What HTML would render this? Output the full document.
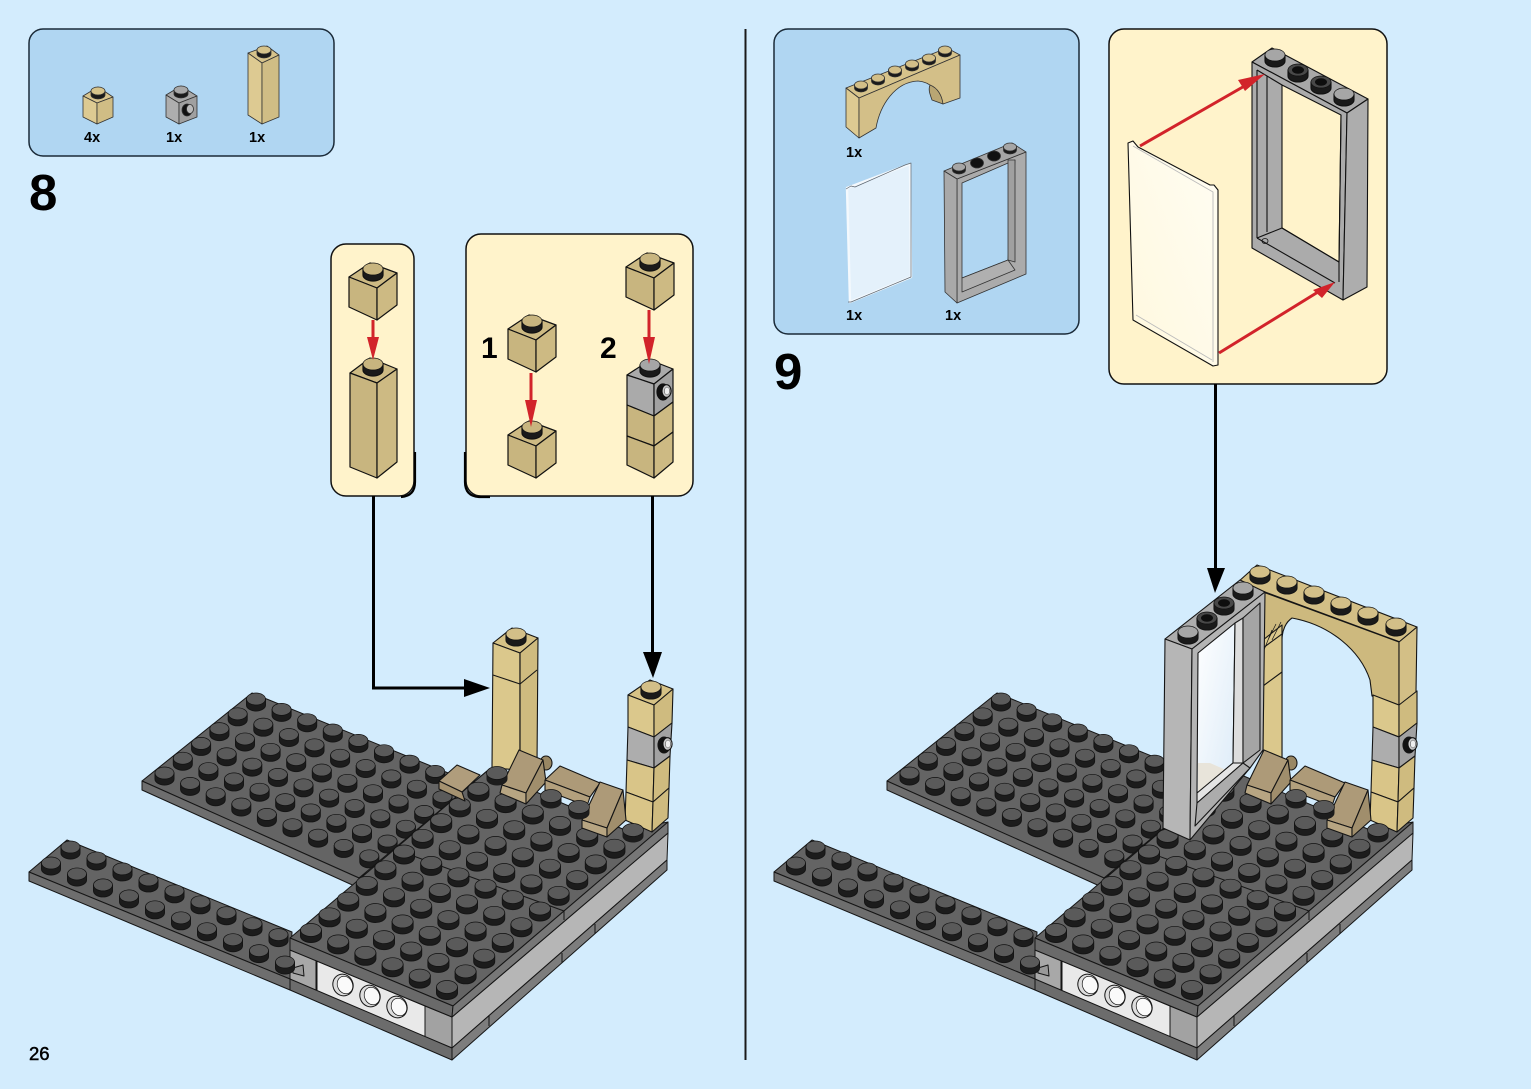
<!DOCTYPE html>
<html><head><meta charset="utf-8"><style>
html,body{margin:0;padding:0;background:#D3ECFD;width:1531px;height:1089px;overflow:hidden}
svg{display:block}
text{font-family:"Liberation Sans",sans-serif;font-weight:bold;fill:#000}
</style></head><body>
<svg width="1531" height="1089" viewBox="0 0 1531 1089" xmlns="http://www.w3.org/2000/svg">
<defs>
<linearGradient id="gl" x1="0" y1="0" x2="1" y2="1"><stop offset="0" stop-color="#fff"/><stop offset="1" stop-color="#dcebf8"/></linearGradient>
<linearGradient id="gy" x1="0" y1="1" x2="1" y2="0"><stop offset="0" stop-color="#FFF8DE"/><stop offset="1" stop-color="#FFFDF3"/></linearGradient>
<g id="s"><path d="M-10.5,-3v6a10.5,6.5 0 0 0 21,0v-6z" fill="#1c1c1c"/><ellipse cx="0" cy="-3" rx="10.5" ry="6.5" fill="#5a5a5a" stroke="#111" stroke-width=".7"/></g>
<g id="s2"><path d="M-9.5,-3v6a9.5,6 0 0 0 19,0v-6z" fill="#1c1c1c"/><ellipse cx="0" cy="-3" rx="9.5" ry="6" fill="#5a5a5a" stroke="#111" stroke-width=".7"/></g>
<g id="ts"><path d="M-10,-4v6a10,6 0 0 0 20,0v-6z" fill="#1a1a1a"/><ellipse cx="0" cy="-4" rx="10" ry="6" fill="#D3BF88" stroke="#111" stroke-width=".7"/></g>
<g id="ty"><path d="M-10,-4v6a10,6 0 0 0 20,0v-6z" fill="#1a1a1a"/><ellipse cx="0" cy="-4" rx="10" ry="6" fill="#C8B57F" stroke="#111" stroke-width=".7"/></g>
<g id="gs"><path d="M-10,-4v6a10,6 0 0 0 20,0v-6z" fill="#1a1a1a"/><ellipse cx="0" cy="-4" rx="10" ry="6" fill="#A6A6A6" stroke="#111" stroke-width=".7"/></g>
<g id="hs"><path d="M-10,-4v6a10,6 0 0 0 20,0v-6z" fill="#1a1a1a"/><ellipse cx="0" cy="-4" rx="10" ry="6" fill="#484848" stroke="#111" stroke-width=".7"/><ellipse cx="0" cy="-4" rx="6" ry="3.7" fill="#0e0e0e" stroke="none"/></g>
<g id="sa"><path d="M-6.5,-3v3a6.5,4 0 0 0 13,0v-3z" fill="#1a1a1a"/><ellipse cx="0" cy="-3" rx="6.5" ry="4" fill="#D3BF88"/></g>
<g id="sm"><path d="M-6.5,-3v3a6.5,4 0 0 0 13,0v-3z" fill="#1a1a1a"/><ellipse cx="0" cy="-3" rx="6.5" ry="4" fill="#A6A6A6"/></g>
<g id="pin"><ellipse cx="-2" cy="1" rx="6" ry="8" fill="#111"/><ellipse cx="1.5" cy="0" rx="4.6" ry="6.3" fill="#ccc" stroke="#111"/><ellipse cx="2" cy="0" rx="2.6" ry="4" fill="#eee" stroke="#333" stroke-width=".5"/></g>
<g id="b9"><use href="#s2"/><use href="#s2" x="25.6" y="10.35"/><use href="#s2" x="51.2" y="20.7"/><use href="#s2" x="76.8" y="31"/><use href="#s2" x="102.4" y="41.4"/><use href="#s2" x="128" y="51.7"/><use href="#s2" x="153.6" y="62.1"/><use href="#s2" x="179.2" y="72.4"/><use href="#s2" x="204.8" y="82.8"/></g>
<g id="f6"><use href="#s"/><use href="#s" x="27.2" y="11.4"/><use href="#s" x="54.4" y="22.8"/><use href="#s" x="81.6" y="34.2"/><use href="#s" x="108.8" y="45.6"/><use href="#s" x="136" y="57"/></g>
<g id="st9"><use href="#s2"/><use href="#s2" x="26" y="10.95"/><use href="#s2" x="52" y="21.9"/><use href="#s2" x="78" y="32.9"/><use href="#s2" x="104" y="43.8"/><use href="#s2" x="130" y="54.8"/><use href="#s2" x="156" y="65.7"/><use href="#s2" x="182" y="76.7"/><use href="#s2" x="208" y="87.6"/></g>
<g id="base" stroke="#151515" stroke-width="1" stroke-linejoin="round">
 <polygon points="252,693 490,790 359,878 142,781" fill="#646464"/>
 <polygon points="142,781 359,878 359,888 142,790" fill="#6e6e6e"/>
 <use href="#b9" x="256" y="702"/><use href="#b9" x="237.7" y="716.8"/><use href="#b9" x="219.4" y="731.6"/><use href="#b9" x="201.1" y="746.4"/><use href="#b9" x="182.8" y="761.2"/><use href="#b9" x="164.5" y="776"/>
 <polygon points="67,840 292,932 290,979 29,872" fill="#646464"/>
 <polygon points="29,872 290,979 290,990 29,881" fill="#6e6e6e"/>
 <use href="#st9" x="70.5" y="850"/><use href="#st9" x="51" y="866"/>
 <polygon points="290,950 316,960 316,993 290,979" fill="#a8a8a8"/>
 <polygon points="317,961 425,1006 425,1037 317,993" fill="#e9e9e9"/>
 <polygon points="425,1006 452,1017 452,1048 425,1037" fill="#a2a2a2"/>
 <polygon points="290,979 452,1048 452,1060 290,990" fill="#6c6c6c"/>
 <polygon points="293,968 303,965 304,976 293,973" fill="#999"/>
 <use href="#s2" x="285" y="965"/>
 <g fill="#ddd"><ellipse cx="343" cy="985" rx="10" ry="11" transform="rotate(-25 343 985)"/><ellipse cx="370" cy="996" rx="10" ry="11" transform="rotate(-25 370 996)"/><ellipse cx="397" cy="1007" rx="10" ry="11" transform="rotate(-25 397 1007)"/></g>
 <g fill="#fafafa" stroke-width=".7"><ellipse cx="345" cy="985" rx="7.5" ry="9" transform="rotate(-25 345 985)"/><ellipse cx="372" cy="996" rx="7.5" ry="9" transform="rotate(-25 372 996)"/><ellipse cx="399" cy="1007" rx="7.5" ry="9" transform="rotate(-25 399 1007)"/></g>
 <polygon points="452,1017 668,833 667,860 452,1048" fill="#b6b6b6"/>
 <polygon points="452,1048 667,860 667,870 452,1060" fill="#7d7d7d"/>
 <path d="M489,1016V1026M562,953V963M595,924V934" fill="none"/>
 <polygon points="290,938 487,771 625,830 668,822 453,1006" fill="#646464"/>
 <polygon points="290,938 453,1006 452,1017 290,950" fill="#6a6a6a"/>
 <polygon points="453,1006 668,822 668,833 452,1017" fill="#777"/>
 <path d="M359,878L487,771M397,850L564,911M564,911V920" fill="none"/>
 <use href="#f6" x="478.4" y="791.7"/><use href="#f6" x="459.8" y="807.4"/><use href="#f6" x="441.2" y="823.1"/><use href="#f6" x="422.6" y="838.8"/><use href="#f6" x="404" y="854.5"/><use href="#f6" x="385.4" y="870.2"/><use href="#f6" x="366.8" y="885.9"/><use href="#f6" x="348.2" y="901.6"/><use href="#f6" x="329.6" y="917.3"/><use href="#f6" x="311" y="933"/>
</g>
<g id="collow" stroke="#151515" stroke-width="1.1" stroke-linejoin="round">
 <polygon points="628,727 654,737 654,768 627,760" fill="#ADADAD"/><polygon points="654,737 672,723 670,756 654,768" fill="#A2A2A2"/>
 <polygon points="627,760 654,768 653,802 626,792" fill="#D9C588"/><polygon points="654,768 670,756 669,788 653,802" fill="#CFBB7F"/>
 <polygon points="626,792 653,802 652,832 625,820" fill="#D9C588"/><polygon points="653,802 669,788 668,818 652,832" fill="#CFBB7F"/>
 <use href="#pin" x="666" y="744"/>
</g>
<g id="slopes" stroke="#151515" stroke-width="1.1" stroke-linejoin="round">
 <ellipse cx="546" cy="763" rx="6" ry="7" fill="#998763"/>
 <polygon points="519,750 543,760 526,793 502,785" fill="#AD9A78"/>
 <polygon points="502,785 526,793 526,804 500,793" fill="#B7A582"/>
 <polygon points="543,760 546,782 526,804 526,793" fill="#A08E6C"/>
 <polygon points="560,766 600,783 590,797 545,780" fill="#AD9A78"/>
 <polygon points="545,780 590,797 587,806 545,790" fill="#B3A07D"/>
 <polygon points="600,782 623,790 607,828 582,820" fill="#AD9A78"/>
 <polygon points="582,820 607,828 607,837 582,828" fill="#B7A582"/>
 <polygon points="623,790 626,820 607,837 607,828" fill="#A08E6C"/>
</g>
</defs>
<rect width="1531" height="1089" fill="#D3ECFD"/>
<line x1="745.5" y1="29" x2="745.5" y2="1060" stroke="#1a1a1a" stroke-width="2"/>

<!-- left scene -->
<use href="#base"/>
<g stroke="#151515" stroke-width="1.1" stroke-linejoin="round">
 <polygon points="493,643 512,628 538,638 520,653" fill="#D6C286"/>
 <polygon points="493,643 520,653 520,770 492,768" fill="#DBC88C"/>
 <polygon points="520,653 538,638 537,765 520,770" fill="#CFBB7F"/>
 <path d="M493,675L520,684L537,670M520,653V770" fill="none"/>
 <use href="#ts" x="516" y="638"/>
 <polygon points="628,695 650,680 673,689 654,705" fill="#D6C286"/>
 <polygon points="628,695 654,705 654,737 628,727" fill="#DBC88C"/>
 <polygon points="654,705 673,689 672,723 654,737" fill="#CFBB7F"/>
 <use href="#ts" x="651" y="691"/>
 <use href="#collow"/>
 <polygon points="457,765 480,775 462,792 439,781" fill="#B09D7C"/>
 <polygon points="439,781 462,792 465,801 439,789" fill="#A59270"/>
</g>
<use href="#slopes"/>
<use href="#s" x="497" y="776"/><use href="#s" x="551" y="799"/><use href="#s" x="579" y="810"/><use href="#s" x="633" y="833"/>

<!-- right scene -->
<g transform="translate(745 0)"><use href="#base"/></g>
<g stroke="#151515" stroke-width="1.1" stroke-linejoin="round">
 <polygon points="1257,565 1417,627 1400,642 1238,582" fill="#D3BF86"/>
 <path d="M1263,592L1399,642V706L1372,696L1370,680C1360,650 1330,625 1292,618C1286,622 1282,630 1282,640V760L1263,755Z" fill="#CDB97E"/>
 <polygon points="1399,642 1417,627 1416,692 1399,706" fill="#D3BF86"/>
 <polygon points="1263,640 1282,625 1282,760 1263,755" fill="#DBC88C"/>
 <path d="M1263,648L1282,634M1263,686L1282,672" fill="none"/>
 <path d="M1268,640L1276,624M1272,640L1281,622M1264,650L1272,630" fill="none" stroke-width=".7"/>
 <polygon points="1373,695 1399,705 1399,737 1373,727" fill="#DBC88C"/>
 <polygon points="1399,705 1417,691 1417,723 1399,737" fill="#CFBB7F"/>
 <use href="#collow" x="745"/>
 <use href="#ts" x="1260" y="576"/><use href="#ts" x="1287" y="586"/><use href="#ts" x="1314" y="596"/><use href="#ts" x="1341" y="607"/><use href="#ts" x="1368" y="617"/><use href="#ts" x="1396" y="628"/>
 <polygon points="1165,639 1240,580 1265,592 1192,649" fill="#ADADAD"/>
 <polygon points="1165,639 1192,649 1190,840 1163,828" fill="#B6B6B6"/>
 <polygon points="1192,649 1265,592 1263,750 1250,768 1190,840" fill="#B4B4B4"/>
 <polygon points="1198,653 1235,623 1233,763 1197,793" fill="url(#gl)"/>
 <polygon points="1198,763 1210,763 1226,770 1198,793" fill="#E8E4DA" stroke="none"/>
 <polygon points="1235,623 1243,618 1243,763 1233,763" fill="#ddd"/>
 <polygon points="1243,618 1260,603 1260,750 1243,763" fill="#A5A5A5"/>
 <polygon points="1197,793 1233,763 1243,763 1197,803" fill="#e4e4e4"/>
 <polygon points="1197,803 1243,763 1250,768 1195,826" fill="#ACACAC"/>
 <use href="#gs" x="1188" y="636"/><use href="#hs" x="1207" y="622"/><use href="#hs" x="1224" y="607"/><use href="#gs" x="1243" y="592"/>
</g>
<g transform="translate(745 0)"><use href="#slopes"/><use href="#s" x="551" y="799"/><use href="#s" x="579" y="810"/><use href="#s" x="633" y="833"/></g>

<!-- panels -->
<rect x="29" y="29" width="305" height="127" rx="14" fill="#B0D6F2" stroke="#1a2a38" stroke-width="1.5"/>
<rect x="774" y="29" width="305" height="305" rx="14" fill="#B0D6F2" stroke="#1a2a38" stroke-width="1.5"/>
<rect x="331" y="244" width="83" height="252" rx="15" fill="#FFF3CB" stroke="#111" stroke-width="1.5"/>
<rect x="466" y="234" width="227" height="262" rx="15" fill="#FFF3CB" stroke="#111" stroke-width="1.5"/>
<rect x="1109" y="29" width="278" height="355" rx="15" fill="#FFF3CB" stroke="#111" stroke-width="1.5"/>
<path d="M415,452V482Q415,496 401,497M465,452V482Q465,496 479,497H490" fill="none" stroke="#000" stroke-width="2.2"/>

<!-- parts step 8 -->
<g stroke="#333" stroke-width=".8" stroke-linejoin="round">
 <polygon points="83,96 98,87 113,97 97,103" fill="#D9C58E"/><polygon points="83,96 97,103 97,124 83,117" fill="#DDCA92"/><polygon points="97,103 113,97 113,117 97,124" fill="#D0BD85"/>
 <path d="M91,91v4a7,4 0 0 0 14,0v-4z" fill="#1a1a1a"/><ellipse cx="98" cy="91" rx="7" ry="4" fill="#D6C38B"/>
 <polygon points="166,95 181,86 197,96 179,103" fill="#A8A8A8"/><polygon points="166,95 179,103 179,124 166,117" fill="#AEAEAE"/><polygon points="179,103 197,96 197,117 179,124" fill="#A0A0A0"/>
 <path d="M174,90v4a7,4 0 0 0 14,0v-4z" fill="#1a1a1a"/><ellipse cx="181" cy="90" rx="7" ry="4" fill="#A8A8A8"/>
 <ellipse cx="187" cy="110" rx="5" ry="6" fill="#111"/><ellipse cx="190" cy="109" rx="3.5" ry="4.5" fill="#bbb"/>
 <polygon points="248,53 267,46 279,55 262,63" fill="#D6C38B"/><polygon points="248,53 262,63 262,124 248,115" fill="#DDCA92"/><polygon points="262,63 279,55 279,117 262,124" fill="#D0BD85"/>
 <path d="M257,50v4a7,4 0 0 0 14,0v-4z" fill="#1a1a1a"/><ellipse cx="264" cy="50" rx="7" ry="4" fill="#D6C38B"/>
</g>

<!-- callout bricks step 8 -->
<g stroke="#111" stroke-width="1.2" stroke-linejoin="round">
 <g id="cube"><polygon points="349,277 370,263 397,273 377,288" fill="#CDBA83"/><polygon points="349,277 377,288 377,320 349,307" fill="#C8B57F"/><polygon points="377,288 397,273 397,305 377,320" fill="#CDBA83"/><use href="#ty" x="373" y="273"/></g>
 <use href="#cube" x="159" y="52"/>
 <use href="#cube" x="159" y="158"/>
 <use href="#cube" x="277" y="-10"/>
 <polygon points="350,373 370,358 397,369 377,383" fill="#CDBA83"/><polygon points="350,373 377,383 377,478 350,467" fill="#C8B57F"/><polygon points="377,383 397,369 397,462 377,478" fill="#CDBA83"/><use href="#ty" x="373" y="368"/>
 <polygon points="627,375 650,360 673,369 654,384" fill="#AAAAAA"/><polygon points="627,375 654,384 654,416 627,405" fill="#AAAAAA"/><polygon points="654,384 673,369 673,402 654,416" fill="#A2A2A2"/>
 <use href="#gs" x="650" y="369"/><use href="#pin" x="665" y="391"/>
 <polygon points="627,405 654,416 654,446 627,436" fill="#C8B57F"/><polygon points="654,416 673,402 673,432 654,446" fill="#CDBA83"/>
 <polygon points="627,436 654,446 654,478 627,465" fill="#C8B57F"/><polygon points="654,446 673,432 673,462 654,478" fill="#CDBA83"/>
</g>
<g fill="#D2232A" stroke="none">
 <rect x="371.5" y="320" width="3" height="20"/><polygon points="367,337 379,337 373,360"/>
 <rect x="529.5" y="373" width="3" height="30"/><polygon points="525,400 537,400 531,427"/>
 <rect x="647.5" y="310" width="3" height="30"/><polygon points="643,337 655,337 649,364"/>
</g>

<!-- parts step 9 -->
<g stroke="#333" stroke-width=".8" stroke-linejoin="round">
 <polygon points="846,88 947,48 960,55 859,98" fill="#D6C38B"/>
 <polygon points="846,88 859,98 859,138 846,127" fill="#DDCA92"/>
 <path d="M859,98L960,55V98L943,104C938,92 932,82 918,81C895,82 880,105 876,128L859,138Z" fill="#D3BF88"/>
 <path d="M930,85C938,88 942,96 943,104L932,100C930,94 928,90 930,85Z" fill="#B9A673"/>
 <use href="#sa" x="861" y="88"/><use href="#sa" x="878" y="81"/><use href="#sa" x="895" y="73"/><use href="#sa" x="912" y="67"/><use href="#sa" x="929" y="61"/><use href="#sa" x="945" y="53"/>
 <polygon points="847,188 910,164 911,277 850,302" fill="#E4F1FB" stroke="#f4f9fd" stroke-width="2.4"/>
 <path d="M846,189L851,186L855,187L905,165L911,163V277L851,302H848" fill="none" stroke="#5c6670" stroke-width=".7"/>
 <path fill-rule="evenodd" d="M957,179L1026,152V274L957,303ZM962,183L1015,160L1008,260L962,278Z" fill="#ABABAB"/>
 <polygon points="944,171 1012,143 1026,152 957,179" fill="#A6A6A6"/>
 <polygon points="944,171 957,179 957,303 945,292" fill="#A9A9A9"/>
 <polygon points="1008,160 1015,160 1015,262 1008,260" fill="#A0A0A0"/>
 <polygon points="962,278 1008,260 1015,270 962,292" fill="#B0B0B0"/>
 <use href="#sm" x="959" y="170"/><use href="#sm" x="1010" y="150"/>
 <ellipse cx="977" cy="163" rx="6.5" ry="5" fill="#111"/><ellipse cx="994" cy="156" rx="6.5" ry="5" fill="#111"/>
</g>

<!-- callout step 9 -->
<g stroke="#111" stroke-width="1.1" stroke-linejoin="round">
 <polygon points="1128,143 1133,141 1138,147 1210,185 1214,185 1218,190 1218,365 1213,366 1133,320" fill="url(#gy)"/>
 <path d="M1133,146L1213,192V362M1136,315L1212,360" fill="none" stroke="#bbb" stroke-width=".9"/>
 <polygon points="1252,62 1272,48 1368,99 1347,113" fill="#A8A8A8"/>
 <path fill-rule="evenodd" d="M1252,62L1347,113L1343,300L1252,248ZM1282,85L1341,115L1339,262L1282,228Z" fill="#ABABAB"/>
 <polygon points="1347,113 1368,99 1367,287 1343,300" fill="#ADADAD"/>
 <path d="M1257,70V238M1267,76V232M1257,70L1282,85M1257,238L1282,228L1339,262V282M1257,238L1335,283M1341,115L1339,262" fill="none"/>
 <ellipse cx="1265" cy="241" rx="3" ry="2.5" fill="none" stroke-width=".8"/>
 <use href="#gs" x="1275" y="59"/><use href="#hs" x="1298" y="74"/><use href="#hs" x="1321" y="86"/><use href="#gs" x="1344" y="98"/>
</g>
<g fill="none" stroke="#D2232A" stroke-width="3"><path d="M1140,146L1248,84"/><path d="M1219,353L1318,292"/></g>
<polygon points="1238,80 1265,74 1245,91" fill="#D2232A"/><polygon points="1313,290 1335,282 1322,298" fill="#D2232A"/>

<!-- connectors -->
<g fill="none" stroke="#000" stroke-width="3"><path d="M373.5,496V688H468"/><path d="M652.5,496V655"/><path d="M1215.5,384V572"/></g>
<polygon points="464,679 490,688 464,697" fill="#000"/>
<polygon points="643,652 662,652 653,678" fill="#000"/>
<polygon points="1207,568 1225,568 1215,593" fill="#000"/>

<!-- text -->
<text x="29" y="210" font-size="51">8</text>
<text x="774" y="389" font-size="51">9</text>
<text x="481" y="358" font-size="30">1</text>
<text x="600" y="358" font-size="30">2</text>
<text x="84" y="142" font-size="14.5">4x</text>
<text x="166" y="142" font-size="14.5">1x</text>
<text x="249" y="142" font-size="14.5">1x</text>
<text x="846" y="157" font-size="14.5">1x</text>
<text x="846" y="320" font-size="14.5">1x</text>
<text x="945" y="320" font-size="14.5">1x</text>
<text x="29" y="1060" font-size="18.5" style="font-weight:normal;stroke:#000;stroke-width:.5">26</text>
</svg>
</body></html>
